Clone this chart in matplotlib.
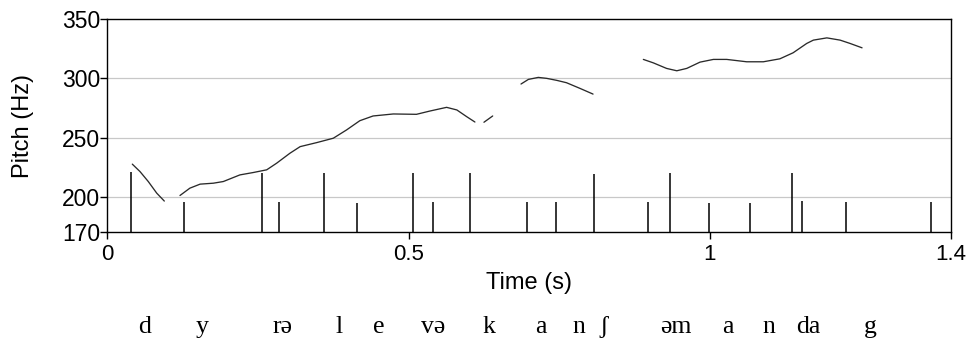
import matplotlib
matplotlib.use("Agg")
import matplotlib.pyplot as plt

# ---- data ----
mark_times = [0.039, 0.127, 0.256, 0.285, 0.360, 0.414, 0.508, 0.541, 0.602,
              0.696, 0.745, 0.808, 0.898, 0.934, 0.999, 1.066, 1.136, 1.153,
              1.226, 1.366]
mark_heights = [221.3, 195.5, 220.0, 195.8, 220.0, 194.6, 220.0, 195.8, 220.0,
                195.5, 195.5, 219.4, 195.5, 220.2, 194.6, 194.6, 220.2, 196.4,
                195.5, 195.5]

seg1_t = [0.0415, 0.0543, 0.068, 0.082, 0.0946]
seg1_hz = [227.6, 221.3, 212.9, 203.1, 196.4]

seg2_t = [0.1206, 0.137, 0.154, 0.176, 0.1925, 0.220, 0.242, 0.2645, 0.281,
          0.303, 0.320, 0.3475, 0.375, 0.397, 0.419, 0.441, 0.4746, 0.513,
          0.5355, 0.563, 0.580, 0.5964, 0.610]
seg2_hz = [201.1, 207.3, 210.7, 211.5, 212.9, 218.5, 220.5, 222.8, 228.4,
           236.8, 242.4, 245.8, 249.5, 256.5, 264.3, 268.3, 270.0, 269.7,
           272.5, 275.6, 273.4, 267.7, 263.2]

seg3_t = [0.625, 0.6395]
seg3_hz = [263.0, 268.3]

seg4_t = [0.6865, 0.6987, 0.7152, 0.729, 0.7458, 0.762, 0.7844, 0.806]
seg4_hz = [295.3, 299.2, 300.9, 300.1, 298.4, 296.4, 291.6, 286.8]

seg5_t = [0.8895, 0.906, 0.928, 0.945, 0.9615, 0.9835, 1.0057, 1.0278, 1.061,
          1.0886, 1.116, 1.138, 1.1606, 1.1716, 1.194, 1.216, 1.2325, 1.2524]
seg5_hz = [316.1, 313.2, 308.5, 306.5, 308.5, 313.8, 316.1, 316.1, 314.1,
           314.1, 316.6, 321.7, 329.6, 332.4, 334.3, 332.4, 329.6, 325.9]

segments_t = [seg1_t, seg2_t, seg3_t, seg4_t, seg5_t]
segments_hz = [seg1_hz, seg2_hz, seg3_hz, seg4_hz, seg5_hz]

y_ticks = [170, 200, 250, 300, 350]
y_grid = [200, 250, 300]
x_ticks = [0, 0.5, 1, 1.4]
x_ticklabels = ["0", "0.5", "1", "1.4"]

ipa_labels = ["d", "y", "rə", "l", "e", "və", "k", "a", "n", "ʃ", "əm", "a",
              "n", "da", "g"]
ipa_x_px = [145, 201.7, 282, 339, 379, 433, 489, 540.5, 579, 604, 675.5, 728,
            769, 808, 870]

# ---- figure ----
W, H = 971, 343
fig = plt.figure(figsize=(W / 100, H / 100), dpi=100)
L, R, T, B = 107.3, 951, 19.3, 232.3
ax = fig.add_axes([L / W, 1 - B / H, (R - L) / W, (B - T) / H])

sans = "Liberation Sans"
serif = "Liberation Serif"

for y in y_grid:
    ax.axhline(y, color="#c8c8c8", lw=0.9, zorder=0)

ax.vlines(mark_times, 170, mark_heights, colors="black", lw=1.1, zorder=2)

for st, sh in zip(segments_t, segments_hz):
    ax.plot(st, sh, color="#2a2a2a", lw=0.95, zorder=3,
            solid_joinstyle="round", solid_capstyle="round")

ax.set_xlim(0, 1.4)
ax.set_ylim(170, 350)
ax.set_yticks(y_ticks)
ax.set_yticklabels([str(v) for v in y_ticks], fontfamily=sans, fontsize=16.5)
ax.set_xticks(x_ticks)
ax.set_xticklabels(x_ticklabels, fontfamily=sans, fontsize=16)
ax.tick_params(axis="y", direction="out", length=5, width=1, pad=0.3)
ax.tick_params(axis="x", direction="out", length=5, width=1, pad=3.5)

for sp in ax.spines.values():
    sp.set_linewidth(1.0)
    sp.set_color("black")

ax.set_ylabel("Pitch (Hz)", fontfamily=sans, fontsize=17)
ax.yaxis.set_label_coords((22.5 - L) / (R - L), 0.5)
ax.yaxis.label.set_va("center")
ax.set_xlabel("Time (s)", fontfamily=sans, fontsize=17)
ax.xaxis.set_label_coords(0.5, (B - 283) / (B - T))
ax.xaxis.label.set_va("center")

for lab, xp in zip(ipa_labels, ipa_x_px):
    fig.text(xp / W, 1 - 333.3 / H, lab, ha="center", va="baseline",
             fontfamily=serif, fontsize=18.5)

fig.savefig("out.png", dpi=100)
